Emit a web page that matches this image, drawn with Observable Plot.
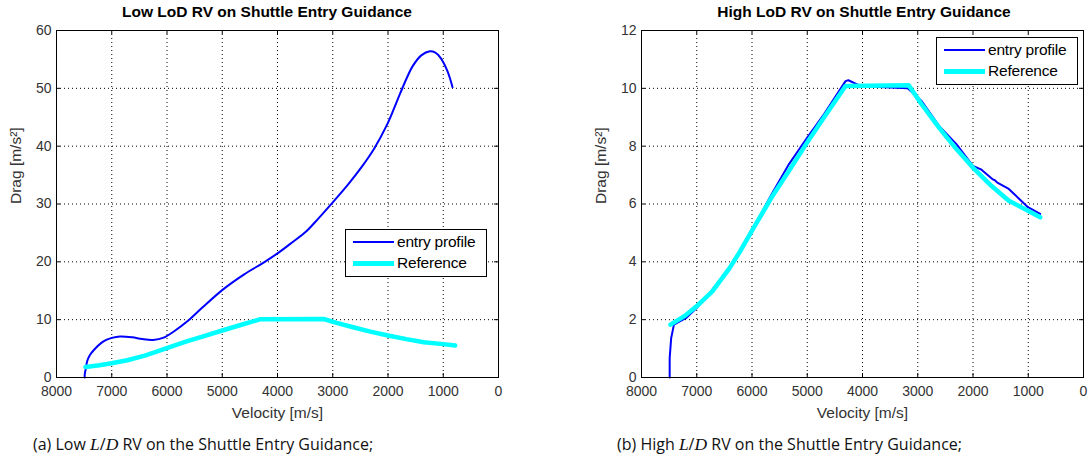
<!DOCTYPE html>
<html><head><meta charset="utf-8">
<script src="https://cdn.jsdelivr.net/npm/d3@7"></script>
<script src="https://cdn.jsdelivr.net/npm/@observablehq/plot@0.6"></script>
<style>
body{margin:0;background:#fff;}
#wrap{position:relative;width:1091px;height:461px;overflow:hidden;background:#fff;font-family:"Liberation Sans",Arial,sans-serif;}
.panel{position:absolute;top:0;}
.panel svg text{font-family:"Liberation Sans",Arial,sans-serif;}
.title{position:absolute;top:3px;font-weight:bold;font-size:15.5px;color:#000;transform:translateX(-50%);white-space:nowrap;}
.legend{position:absolute;width:140px;height:46px;border:1px solid #000;background:#fff;font-size:15.5px;color:#000;}
.legend .row{position:absolute;left:0;height:16px;width:140px;}
.legend .sw{position:absolute;left:7px;width:41px;}
.legend .lab{position:absolute;left:51px;top:0;line-height:16px;white-space:nowrap;letter-spacing:-0.2px;}
.caption{position:absolute;top:433px;font-family:"Open Sans",Lato,sans-serif;font-size:16px;color:#111;white-space:nowrap;}
.caption i{font-family:"Liberation Serif","DejaVu Serif",serif;font-size:17.5px;}
</style></head>
<body><div id="wrap"></div>
<script>
// ---- data ----
const xTicks = [8000, 7000, 6000, 5000, 4000, 3000, 2000, 1000, 0];
const lowYTicks = [0, 10, 20, 30, 40, 50, 60];
const highYTicks = [0, 2, 4, 6, 8, 10, 12];

const lowEntryV = [7490, 7488, 7470, 7445, 7400, 7320, 7194, 7100, 7000, 6850, 6630, 6450, 6250, 6060, 5870, 5620, 5370, 4990, 4610, 4230, 3980, 3730, 3477, 3250, 3036, 2721, 2469, 2249, 2028, 1900, 1776, 1650, 1556, 1398, 1241, 1150, 1052, 926, 832];
const lowEntryD = [0, 0.6, 1.5, 2.8, 3.8, 4.8, 5.95, 6.5, 6.85, 7.1, 6.95, 6.65, 6.5, 6.9, 8.0, 9.8, 12.0, 15.2, 17.8, 20.0, 21.6, 23.4, 25.3, 27.6, 29.9, 33.4, 36.5, 39.6, 43.5, 46.3, 49.2, 52.0, 53.8, 55.7, 56.4, 56.2, 55.3, 53.0, 50.2];

const refV = [7476, 7224, 7003, 6718, 6403, 6213, 6005, 5645, 5330, 5000, 4698, 4307, 3164, 2930, 2615, 2300, 2002, 1668, 1352, 1005, 784];
const refD = [1.83, 2.12, 2.46, 2.98, 3.79, 4.37, 5.06, 6.23, 7.15, 8.13, 8.99, 10.08, 10.11, 9.45, 8.64, 7.9, 7.26, 6.63, 6.11, 5.77, 5.54];

const highEntryV = [7490, 7490, 7463, 7413, 7192, 7003, 6718, 6403, 6005, 5645, 5330, 5000, 4698, 4307, 4256, 4067, 3688, 3183, 2930, 2615, 2300, 2002, 1857, 1640, 1604, 1560, 1352, 1005, 784];
const highEntryD = [0, 0.67, 1.36, 1.83, 2.06, 2.4, 3.04, 3.79, 5.06, 6.34, 7.38, 8.3, 9.1, 10.25, 10.28, 10.11, 10.05, 10.0, 9.56, 8.7, 8.07, 7.32, 7.2, 6.85, 6.82, 6.74, 6.52, 5.89, 5.66];

const xLabel = "Velocity [m/s]";
const yLabel = "Drag [m/s²]";

const toRows = (vs, ds) => vs.map((v, i) => ({v, d: ds[i]}));
const lowEntry = toRows(lowEntryV, lowEntryD);
const reference = toRows(refV, refD);
const highEntry = toRows(highEntryV, highEntryD);

const wrap = document.getElementById("wrap");

function panel({left, width, mL, mR, yTicks, entry, entryCurve, title, titleX, legendPos, caption}) {
  const H = 425, mT = 30, mB = 48;
  const fw = width - mL - mR, fh = H - mT - mB;
  const grid = {stroke: "#000", strokeOpacity: 1, strokeWidth: 1, strokeDasharray: "1,3"};
  const chart = Plot.plot({
    width, height: H, marginLeft: mL, marginRight: mR, marginTop: mT, marginBottom: mB,
    x: {domain: [8000, 0]},
    y: {domain: [yTicks[0], yTicks[yTicks.length - 1]]},
    style: {fontFamily: "'Liberation Sans', Arial, sans-serif", fontSize: "14px", color: "#333", background: "white", overflow: "visible"},
    marks: [
      Plot.gridX(xTicks.slice(1, -1), grid),
      Plot.gridY(yTicks.slice(1, -1), grid),
      Plot.tickX(xTicks, {x: d => d, stroke: "#000", insetTop: fh - 4}),
      Plot.tickX(xTicks, {x: d => d, stroke: "#000", insetBottom: fh - 4}),
      Plot.tickY(yTicks, {y: d => d, stroke: "#000", insetLeft: fw - 4}),
      Plot.tickY(yTicks, {y: d => d, stroke: "#000", insetRight: fw - 4}),
      Plot.line(entry, {x: "v", y: "d", stroke: "#0000ff", strokeWidth: 2, curve: entryCurve}),
      Plot.line(reference, {x: "v", y: "d", stroke: "#00ffff", strokeWidth: 4.5, curve: "linear"}),
      Plot.frame({stroke: "#000", strokeWidth: 1}),
      Plot.axisX(xTicks, {tickSize: 0, tickPadding: 9, tickFormat: d => String(d), fontSize: 14, label: null}),
      Plot.axisY(yTicks, {tickSize: 0, tickPadding: 5, tickFormat: d => String(d), fontSize: 14, label: null}),
      Plot.text([xLabel], {text: d => d, frameAnchor: "bottom", dy: 40, fontSize: 15.5, fill: "#333"}),
      Plot.text([yLabel], {text: d => d, frameAnchor: "left", dx: -40, rotate: -90, fontSize: 15.5, fill: "#333"})
    ]
  });
  const p = document.createElement("div");
  p.className = "panel";
  p.style.left = left + "px";
  p.appendChild(chart);
  wrap.appendChild(p);

  const t = document.createElement("div");
  t.className = "title";
  t.style.left = titleX + "px";
  t.textContent = title;
  wrap.appendChild(t);

  const lg = document.createElement("div");
  lg.className = "legend";
  lg.style.left = legendPos[0] + "px";
  lg.style.top = legendPos[1] + "px";
  lg.innerHTML =
    '<div class="row" style="top:4px"><div class="sw" style="top:7px;border-top:2px solid #0000ff"></div><div class="lab">entry profile</div></div>' +
    '<div class="row" style="top:25px"><div class="sw" style="top:6px;border-top:5px solid #00ffff"></div><div class="lab">Reference</div></div>';
  wrap.appendChild(lg);

  const c = document.createElement("div");
  c.className = "caption";
  c.style.left = caption[0] + "px";
  c.innerHTML = caption[1];
  wrap.appendChild(c);
}

panel({left: 0, width: 545, mL: 56, mR: 47, yTicks: lowYTicks, entry: lowEntry, entryCurve: "catmull-rom",
  title: "Low LoD RV on Shuttle Entry Guidance", titleX: 267, legendPos: [345, 229],
  caption: [33, "(a) Low <i>L</i>/<i>D</i> RV on the Shuttle Entry Guidance;"]});
panel({left: 545, width: 546, mL: 96, mR: 8, yTicks: highYTicks, entry: highEntry, entryCurve: "linear",
  title: "High LoD RV on Shuttle Entry Guidance", titleX: 864, legendPos: [936, 37],
  caption: [617, "(b) High <i>L</i>/<i>D</i> RV on the Shuttle Entry Guidance;"]});
</script>
</body></html>
